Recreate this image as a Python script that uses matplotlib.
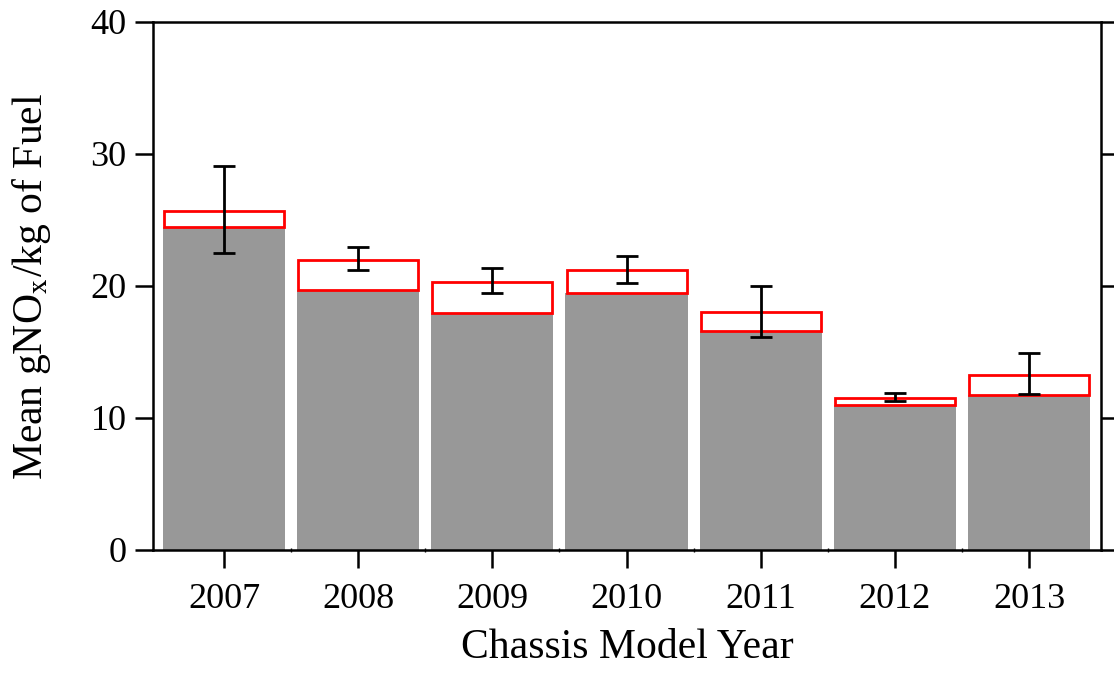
import matplotlib.pyplot as plt
import numpy as np

years = ['2007', '2008', '2009', '2010', '2011', '2012', '2013']
base_vals = [24.5, 19.7, 17.95, 19.45, 16.6, 10.95, 11.75]
upper_vals = [25.7, 22.0, 20.3, 21.2, 18.0, 11.5, 13.25]
err_low = [22.5, 21.2, 19.45, 20.25, 16.1, 11.25, 11.8]
err_high = [29.1, 22.95, 21.35, 22.3, 20.0, 11.9, 14.9]

plt.rcParams['font.family'] = ['Liberation Serif', 'DejaVu Serif']
plt.rcParams['mathtext.fontset'] = 'stix'

fig = plt.figure(figsize=(11.14, 6.74), dpi=100)
ax = fig.add_axes([0.1373, 0.184, 0.8510, 0.7834])

x = np.arange(len(years))
base = np.array(base_vals)
upper = np.array(upper_vals)
lo = np.array(err_low)
hi = np.array(err_high)
mid = (lo + hi) / 2

ax.bar(x, base, width=0.91, color='#989898', zorder=1)
ax.bar(x, upper - base, bottom=base, width=0.895, facecolor='none',
       edgecolor='red', linewidth=2.0, zorder=2)
ax.errorbar(x, mid, yerr=[mid - lo, hi - mid], fmt='none', ecolor='black',
            elinewidth=2.0, capsize=8, capthick=2.0, zorder=3)

ax.set_xlim(-0.529, 6.535)
ax.set_ylim(0, 40)
ax.set_xticks(x)
ax.set_xticklabels(years)
ax.set_xticks(x[:-1] + 0.5, minor=True)
ax.set_yticks([0, 10, 20, 30, 40])

for s in ax.spines.values():
    s.set_linewidth(1.8)

ax.tick_params(axis='both', which='major', labelsize=26, length=13,
               width=1.8, direction='out')
ax.tick_params(axis='y', right=True)
ax.tick_params(axis='x', which='minor', length=3, width=1, direction='inout')
ax.tick_params(axis='x', pad=11)
ax.tick_params(axis='y', pad=6)

ax.set_xlabel('Chassis Model Year', fontsize=30, labelpad=9)
ax.set_ylabel('Mean gNO$_{\\rm x}$/kg of Fuel', fontsize=30, labelpad=27)

fig.savefig('out.png', dpi=100)
